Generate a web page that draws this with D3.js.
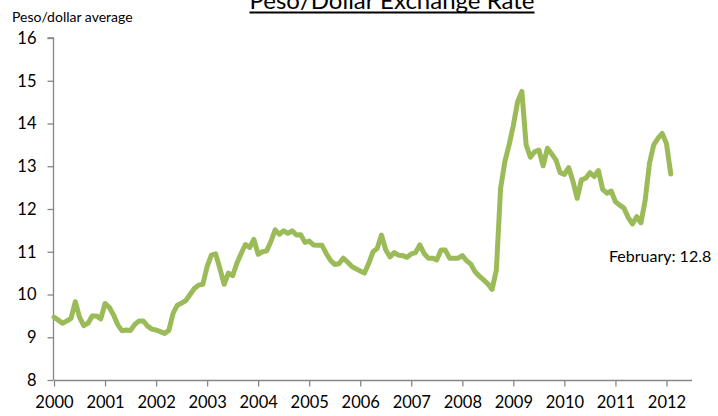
<!DOCTYPE html>
<html>
<head>
<meta charset="utf-8">
<script src="https://cdn.jsdelivr.net/npm/d3@7"></script>
<style>
  body { margin: 0; background: #fff; }
  svg { display: block; font-family: Lato, "Open Sans", sans-serif; }
</style>
</head>
<body>
<svg id="chart" width="718" height="416"></svg>
<script>
// Monthly peso/dollar average, Jan 2000 .. Feb 2012
const rates2000 = [9.47, 9.40, 9.33, 9.38, 9.44, 9.83, 9.47, 9.27, 9.33, 9.50, 9.50, 9.43];
const rates2001 = [9.79, 9.70, 9.52, 9.29, 9.15, 9.17, 9.16, 9.30, 9.38, 9.38, 9.26, 9.19];
const rates2002 = [9.17, 9.13, 9.09, 9.16, 9.56, 9.75, 9.80, 9.86, 10.00, 10.14, 10.22, 10.24];
const rates2003 = [10.65, 10.92, 10.95, 10.61, 10.24, 10.50, 10.44, 10.73, 10.96, 11.17, 11.10, 11.29];
const rates2004 = [10.94, 11.00, 11.02, 11.24, 11.51, 11.41, 11.49, 11.43, 11.49, 11.39, 11.40, 11.22];
const rates2005 = [11.25, 11.16, 11.15, 11.15, 10.96, 10.80, 10.70, 10.72, 10.85, 10.76, 10.66, 10.60];
const rates2006 = [10.55, 10.50, 10.73, 11.00, 11.08, 11.39, 11.04, 10.88, 10.98, 10.92, 10.91, 10.87];
const rates2007 = [10.95, 10.98, 11.16, 10.96, 10.85, 10.85, 10.81, 11.04, 11.04, 10.85, 10.85, 10.85];
const rates2008 = [10.91, 10.79, 10.71, 10.53, 10.43, 10.34, 10.25, 10.12, 10.57, 12.48, 13.11, 13.50];
const rates2009 = [13.96, 14.51, 14.75, 13.50, 13.21, 13.34, 13.38, 13.01, 13.42, 13.29, 13.15, 12.85];
const rates2010 = [12.81, 12.97, 12.65, 12.25, 12.68, 12.72, 12.85, 12.76, 12.90, 12.46, 12.37, 12.42];
const rates2011 = [12.17, 12.09, 12.02, 11.80, 11.65, 11.82, 11.68, 12.21, 13.07, 13.50, 13.65, 13.77];
const rates2012 = [13.53, 12.82];

const years = [2000, 2001, 2002, 2003, 2004, 2005, 2006, 2007, 2008, 2009, 2010, 2011, 2012];
const yTicks = [8, 9, 10, 11, 12, 13, 14, 15, 16];
const titleText = 'Peso/Dollar Exchange Rate';
const unitText = 'Peso/dollar average';
const noteText = 'February: 12.8';

const rates = [].concat(rates2000, rates2001, rates2002, rates2003, rates2004, rates2005,
    rates2006, rates2007, rates2008, rates2009, rates2010, rates2011, rates2012);
const data = rates.map((v, i) => ({ month: i, value: v }));

const svg = d3.select('#chart');
const axisColor = '#868686';
const lineColor = '#9bbb59';

// x in months since Jan 2000
const x = d3.scaleLinear().domain([0, 150]).range([54, 692]);
const y = d3.scaleLinear().domain([8, 16]).range([380, 38]);

// Title (its top is clipped in the original too)
const title = svg.append('text')
    .attr('x', 392)
    .attr('y', 9)
    .attr('text-anchor', 'middle')
    .attr('font-size', '24px')
    .attr('fill', '#000')
    .text(titleText);
const tb = title.node().getBBox();
svg.append('line')
    .attr('x1', tb.x).attr('x2', tb.x + tb.width)
    .attr('y1', 12.5).attr('y2', 12.5)
    .attr('stroke', '#000')
    .attr('stroke-width', 2);

svg.append('text')
    .attr('x', 12)
    .attr('y', 22)
    .attr('font-size', '14px')
    .attr('fill', '#000')
    .text(unitText);

// Y axis
const yAxis = svg.append('g')
    .attr('transform', `translate(${x(0) - 0.5},0)`)
    .call(d3.axisLeft(y).tickValues(yTicks).tickSize(6).tickPadding(11).tickFormat(d3.format('d')));

// X axis
const xAxis = svg.append('g')
    .attr('transform', `translate(0,${y(8) + 0.5})`)
    .call(d3.axisBottom(x).tickValues(years.map((d, i) => i * 12)).tickSize(6).tickPadding(10)
        .tickFormat((d, i) => years[i]));

[yAxis, xAxis].forEach(a => {
    a.select('.domain').attr('stroke', axisColor).attr('stroke-width', 1.3);
    a.selectAll('.tick line').attr('stroke', axisColor).attr('stroke-width', 1.3);
    a.selectAll('.tick text').attr('fill', '#000').attr('font-size', '16.5px')
        .attr('font-family', 'Lato, "Open Sans", sans-serif');
});
yAxis.select('.domain').attr('d', `M-6,${y(16)}H0V${y(8)}`);
xAxis.select('.domain').attr('d', `M${x(0)},0H${x(150)}`);

// Line
const line = d3.line()
    .x(d => x(d.month))
    .y(d => y(d.value));

svg.append('path')
    .datum(data)
    .attr('fill', 'none')
    .attr('stroke', lineColor)
    .attr('stroke-width', 5)
    .attr('stroke-linejoin', 'round')
    .attr('stroke-linecap', 'round')
    .attr('d', line);

svg.append('text')
    .attr('x', 609)
    .attr('y', 262)
    .attr('font-size', '16px')
    .attr('fill', '#000')
    .text(noteText);
</script>
</body>
</html>
